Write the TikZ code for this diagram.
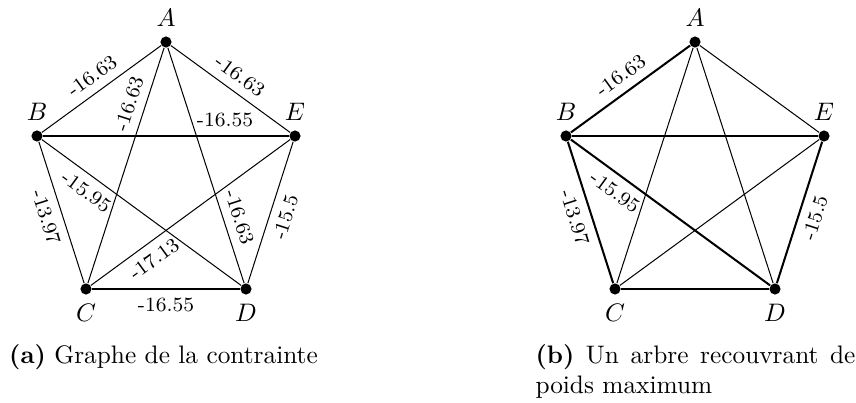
\documentclass[tikz,border=0pt]{standalone}

\begin{document}
\begin{tikzpicture}[
            x=0.395pt,
            y=-0.395pt,
            dot/.style={
                    circle,
                    fill=black,
                    inner sep=0pt,
                    minimum size=4.4pt,
                    label distance=1.3pt
                },
            weight/.style={
                    font=\footnotesize,
                    sloped
                },
            tree/.style={
                    thick
                },
            subcap/.style={
                    text width=126.4pt,
                    inner sep=0pt,
                    anchor=base west
                }
        ]
        \useasboundingbox (0,0) rectangle (856,403);

        % Nodes (a)
        \node [dot, label=above:$A$] (A1) at (166,42) {};
        \node [dot, label=above:$B$] (B1) at (37,136) {};
        \node [dot, label=above:$E$] (E1) at (295,136) {};
        \node [dot, label=below:$C$] (C1) at (86,289) {};
        \node [dot, label=below:$D$] (D1) at (246,289) {};

        % Edges (a)
        \draw (A1) -- node [weight, above] {-16.63} (B1);
        \draw (A1) -- node [weight, above] {-16.63} (E1);
        \draw (C1) -- node [weight, above, pos=0.74] {-16.63} (A1);
        \draw (A1) -- node [weight, above, pos=0.74] {-16.63} (D1);
        \draw (B1) -- node [weight, above, pos=0.74] {-16.55} (E1);
        \draw (B1) -- node [weight, below, pos=0.27] {-15.95} (D1);
        \draw (B1) -- node [weight, below] {-13.97} (C1);
        \draw (C1) -- node [weight, below, pos=0.27] {-17.13} (E1);
        \draw (D1) -- node [weight, below] {-15.5} (E1);
        \draw (C1) -- node [weight, below] {-16.55} (D1);

        % Nodes (b)
        \node [dot, label=above:$A$] (A2) at (695,42) {};
        \node [dot, label=above:$B$] (B2) at (566,136) {};
        \node [dot, label=above:$E$] (E2) at (824,136) {};
        \node [dot, label=below:$C$] (C2) at (615,289) {};
        \node [dot, label=below:$D$] (D2) at (775,289) {};

        % Edges (b)
        \draw (A2) -- (C2);
        \draw (A2) -- (D2);
        \draw (A2) -- (E2);
        \draw (B2) -- (E2);
        \draw (C2) -- (D2);
        \draw (C2) -- (E2);

        % Spanning tree
        \draw [tree] (A2) -- node [weight, above] {-16.63} (B2);
        \draw [tree] (B2) -- node [weight, below] {-13.97} (C2);
        \draw [tree] (B2) -- node [weight, below, pos=0.27] {-15.95} (D2);
        \draw [tree] (D2) -- node [weight, below] {-15.5} (E2);

        % Captions
        \node [subcap, align=center] (capA) at (3,363) {\textbf{(a)} Graphe de la contrainte};
        \node [subcap, align=justify] (capB) at (535,363) {\textbf{(b)} Un arbre recouvrant de\linebreak poids maximum};
    \end{tikzpicture}
\end{document}
